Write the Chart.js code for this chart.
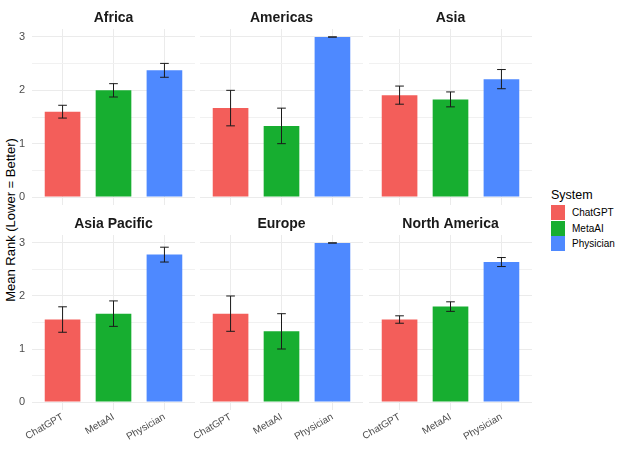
<!DOCTYPE html>
<html>
<head>
<meta charset="utf-8">
<script src="https://cdn.jsdelivr.net/npm/chart.js@4"></script>
<style>
  body { margin: 0; background: #fff; font-family: "Liberation Sans", Arial, sans-serif; }
  #wrap { position: relative; width: 627px; height: 466px; overflow: hidden; }
  canvas { position: absolute; }
  #ytitle { position: absolute; left: 10px; top: 220px; transform: translate(-50%, -50%) rotate(-90deg);
            white-space: nowrap; font-size: 13px; color: #000; }
  #legend { position: absolute; left: 551px; top: 188px; font-size: 10px; color: #000; }
  #legend .ttl { font-size: 12.5px; margin-bottom: 3px; }
  #legend .row { display: flex; align-items: center; height: 15.5px; }
  #legend .key { width: 14px; height: 15px; margin-right: 7px; }
</style>
</head>
<body>
<div id="wrap">
  <div id="ytitle">Mean Rank (Lower = Better)</div>
  <div id="legend"></div>
</div>
<script>
document.addEventListener("DOMContentLoaded", function () {
  // data
  const regions = ["Africa", "Americas", "Asia", "Asia Pacific", "Europe", "North America"];
  const systems = ["ChatGPT", "MetaAI", "Physician"];
  const meanChatGPT = [1.60, 1.667, 1.91, 1.556, 1.667, 1.556];
  const meanMetaAI = [2.00, 1.333, 1.83, 1.667, 1.333, 1.80];
  const meanPhysician = [2.375, 3.00, 2.21, 2.78, 3.00, 2.64];
  const seChatGPT = [0.12, 0.333, 0.17, 0.24, 0.333, 0.07];
  const seMetaAI = [0.125, 0.333, 0.14, 0.24, 0.333, 0.09];
  const sePhysician = [0.13, 0, 0.18, 0.14, 0, 0.085];
  const yTicks = [0, 1, 2, 3];

  const cores = ["#F35E5A", "#17AE30", "#4E89FF"];
  const grade = "#ebebeb";
  const fonte = "'Liberation Sans', Arial, sans-serif";

  const wrap = document.querySelector("#wrap");

  // Legenda
  let legenda = document.querySelector("#legend");
  let ttl = document.createElement("div");
  ttl.className = "ttl";
  ttl.textContent = "System";
  legenda.appendChild(ttl);
  systems.forEach(function (s, i) {
    let row = document.createElement("div");
    row.className = "row";
    let key = document.createElement("div");
    key.className = "key";
    key.style.background = cores[i];
    let lab = document.createElement("span");
    lab.textContent = s;
    row.appendChild(key);
    row.appendChild(lab);
    legenda.appendChild(row);
  });

  // error bars + strip titles
  const errorBars = {
    id: "errorBars",
    afterDatasetsDraw(chart, args, opts) {
      const ctx = chart.ctx;
      const x = chart.scales.x, y = chart.scales.y;
      ctx.save();
      ctx.strokeStyle = "#1a1a1a";
      ctx.lineWidth = 1;
      opts.means.forEach(function (m, i) {
        const xc = x.getPixelForValue(i + 1);
        const hw = x.getPixelForValue(i + 1 + 0.085) - xc;
        const y1 = y.getPixelForValue(m + opts.se[i]);
        const y0 = y.getPixelForValue(m - opts.se[i]);
        ctx.beginPath();
        ctx.moveTo(xc - hw, y1); ctx.lineTo(xc + hw, y1);
        ctx.moveTo(xc, y1); ctx.lineTo(xc, y0);
        ctx.moveTo(xc - hw, y0); ctx.lineTo(xc + hw, y0);
        ctx.stroke();
      });
      ctx.restore();
    },
    afterDraw(chart, args, opts) {
      const ctx = chart.ctx;
      const a = chart.chartArea;
      ctx.save();
      ctx.fillStyle = "#1a1a1a";
      ctx.font = "bold 14px " + fonte;
      ctx.textAlign = "center";
      ctx.textBaseline = "middle";
      ctx.fillText(opts.title, (a.left + a.right) / 2, a.top - 11);
      ctx.restore();
    }
  };

  const colLeft = [31.5, 200, 368.5];
  const rowTop = [29, 235];
  const panelW = 163;
  const panelH = [176, 175];
  const yAxisW = 18;
  const topPad = 26;
  const bottomLab = 56;

  function criarPainel(r) {
    const col = r % 3, row = Math.floor(r / 3);
    const means = [meanChatGPT[r], meanMetaAI[r], meanPhysician[r]];
    const se = [seChatGPT[r], seMetaAI[r], sePhysician[r]];
    const left = Math.round(colLeft[col] - yAxisW);
    const top = rowTop[row] - topPad;
    const w = Math.round(colLeft[col] + panelW) - left;
    const h = topPad + panelH[row] + (row === 1 ? bottomLab : 0);

    let canvas = document.createElement("canvas");
    canvas.width = w;
    canvas.height = h;
    canvas.style.left = left + "px";
    canvas.style.top = top + "px";
    wrap.appendChild(canvas);

    new Chart(canvas.getContext("2d"), {
      type: "bar",
      data: {
        datasets: [{
          data: means.map(function (m, i) { return { x: i + 1, y: m }; }),
          backgroundColor: cores,
          borderWidth: 0,
          barPercentage: 0.7,
          categoryPercentage: 1
        }]
      },
      plugins: [errorBars],
      options: {
        responsive: false,
        animation: false,
        devicePixelRatio: 1,
        layout: { padding: { top: topPad, left: 0, right: 0, bottom: 0 } },
        plugins: {
          legend: { display: false },
          tooltip: { enabled: false },
          errorBars: { means: means, se: se, title: regions[r] }
        },
        scales: {
          x: {
            type: "linear",
            min: 0.4,
            max: 3.6,
            offset: false,
            afterBuildTicks: function (s) { s.ticks = systems.map(function (n, i) { return { value: i + 1 }; }); },
            afterFit: function (s) {
              s.height = row === 1 ? bottomLab : 0;
              s.paddingLeft = 0;
              s.paddingRight = 0;
            },
            grid: { color: grade, lineWidth: 1, drawTicks: false, offset: false },
            border: { display: false },
            ticks: {
              display: row === 1,
              autoSkip: false,
              minRotation: 30,
              maxRotation: 30,
              padding: 1,
              color: "#4d4d4d",
              font: { family: fonte, size: 10 },
              callback: function (v) { return systems[v - 1]; }
            }
          },
          y: {
            min: -0.15,
            max: 3.15,
            afterBuildTicks: function (s) {
              s.ticks = [0, 0.5, 1, 1.5, 2, 2.5, 3].map(function (v) { return { value: v }; });
            },
            afterFit: function (s) {
              s.width = yAxisW;
              s.paddingTop = 0;
              s.paddingBottom = 0;
            },
            grid: {
              drawTicks: false,
              color: function (c) { return c.tick && c.tick.value % 1 === 0 ? grade : "#f1f1f1"; },
              lineWidth: 1
            },
            border: { display: false },
            ticks: {
              display: col === 0,
              padding: 7,
              color: "#4d4d4d",
              font: { family: fonte, size: 11 },
              callback: function (v) { return yTicks.indexOf(v) >= 0 ? String(v) : ""; }
            }
          }
        }
      }
    });
  }

  regions.forEach(function (n, r) { criarPainel(r); });
});
</script>
</body>
</html>
